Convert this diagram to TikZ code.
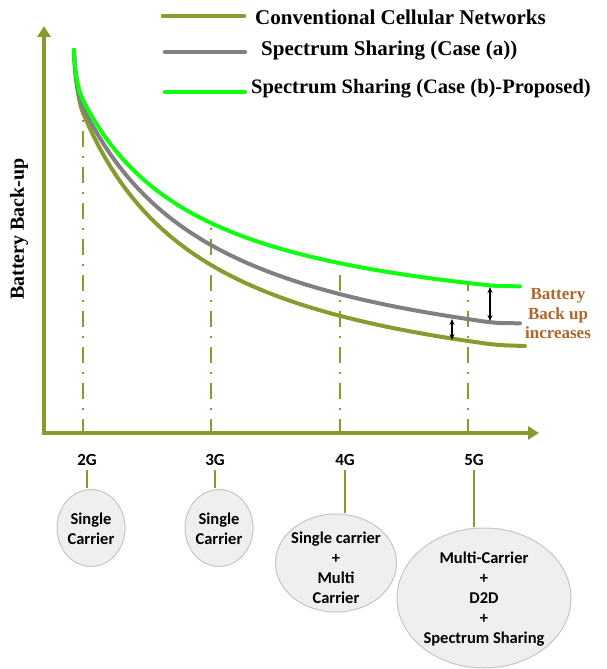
\documentclass[tikz,border=0pt]{standalone}
\usepackage{fontspec}
\setmainfont{Liberation Serif}
\newfontfamily\calfont{Carlito}[BoldFont={Carlito Bold}]
\usetikzlibrary{arrows.meta,shapes.geometric}
\definecolor{axisolive}{HTML}{8B9A2E}
\definecolor{casegray}{HTML}{808080}
\definecolor{casegreen}{HTML}{10FF10}
\definecolor{notebrown}{HTML}{B0652A}
\definecolor{bubblefill}{HTML}{EFEFEF}
\definecolor{bubbleline}{HTML}{C6C6BC}
\begin{document}
\begin{tikzpicture}[x=1pt,y=-1pt,
  axisline/.style={draw=axisolive,line width=4pt,-{Triangle[length=11pt,width=13pt]}},
  curve/.style={line width=4pt,line cap=round,line join=round},
  legendline/.style={line width=4.5pt,line cap=round},
  legendtext/.style={anchor=west,inner sep=0pt,font=\fontsize{21}{25}\selectfont\bfseries},
  gridline/.style={draw=axisolive,line width=2pt,dash pattern=on 16pt off 9pt on 2pt off 9pt},
  gaparrow/.style={draw=black,line width=1.3pt,{Stealth[length=6pt,width=5pt]}-{Stealth[length=6pt,width=5pt]}},
  genlabel/.style={inner sep=0pt,font=\calfont\bfseries\fontsize{17}{20}\selectfont},
  bubble/.style={ellipse,draw=bubbleline,fill=bubblefill,line width=1pt,inner sep=0pt},
  bubbletext/.style={align=center,inner sep=0pt,font=\calfont\bfseries\fontsize{16.5}{20}\selectfont},
  stem/.style={draw=axisolive,line width=2pt}]
\useasboundingbox (0,0) rectangle (607,669);

% legend
\draw[legendline,axisolive] (163,16) -- (244,16);
\draw[legendline,casegray] (165,52) -- (245,52);
\draw[legendline,casegreen] (165,92) -- (245,92);
\node[legendtext] (leg1) at (255,17) {Conventional Cellular Networks};
\node[legendtext] (leg2) at (261,51) {Spectrum Sharing (Case (a))};
\node[legendtext,font=\fontsize{20.5}{25}\selectfont\bfseries] (leg3) at (251,89) {Spectrum Sharing (Case (b)-Proposed)};

% axis title
\node[rotate=90,inner sep=0pt,font=\fontsize{20}{24}\selectfont\bfseries] (ylab) at (19,229) {Battery Back-up};

% generation grid lines
\draw[gridline] (83,435) -- (83,120);
\draw[gridline] (211,435) -- (211,227);
\draw[gridline] (340,435) -- (340,274);
\draw[gridline] (468,435) -- (468,283);

% battery back-up curves: steep start, hyperbolic decay, flat tail
\draw[curve,axisolive] (74,50) .. controls (74.5,76) and (79,104) .. (83,113)
  -- plot[domain=83:468,samples=70] (\x,{416.6-(387.75/(\x+44.7))*100})
  .. controls (496,345.1) .. (525,346);
\draw[curve,casegray] (74,50) .. controls (74.5,74) and (78.5,97) .. (83,107)
  -- plot[domain=83:468,samples=70] (\x,{396.3-(405.84/(\x+57.3))*100})
  .. controls (494,323.1) .. (520,323.3);
\draw[curve,casegreen] (74,50) .. controls (74.8,70) and (78,90) .. (83,100)
  -- plot[domain=83:468,samples=70] (\x,{341.7-(298.65/(\x+40.55))*100})
  .. controls (495,286.1) .. (520,286.3);

% axes
\coordinate (origin) at (44,433);
\coordinate (ytip) at (44,26);
\coordinate (xtip) at (539,433);
\draw[axisline] ([yshift=-2pt]origin) -- (ytip);
\draw[axisline] ([xshift=-2pt]origin) -- (xtip);

% gap arrows
\coordinate (ga1) at (452,340);
\coordinate (gb1) at (452,319);
\coordinate (ga2) at (490,321);
\coordinate (gb2) at (490,287);
\draw[gaparrow] (ga1) -- (gb1);
\draw[gaparrow] (ga2) -- (gb2);
\node[align=center,inner sep=0pt,text=notebrown,font=\fontsize{17}{19.5}\selectfont\bfseries] (gain) at (558,314) {Battery\\Back up\\increases};

% generation labels
\node[genlabel] (g2) at (87,460) {2G};
\node[genlabel] (g3) at (215,460) {3G};
\node[genlabel] (g4) at (345,460) {4G};
\node[genlabel] (g5) at (474,460) {5G};

% technology bubbles
\node[bubble,minimum width=68pt,minimum height=77pt] (b2) at (91,528) {};
\node[bubble,minimum width=68pt,minimum height=77pt] (b3) at (219,528) {};
\node[bubble,minimum width=121pt,minimum height=98pt] (b4) at (336,563) {};
\node[bubble,minimum width=174pt,minimum height=140pt] (b5) at (484,598) {};
\node[bubbletext] (t2) at (91,529) {Single\\Carrier};
\node[bubbletext] (t3) at (219,529) {Single\\Carrier};
\node[bubbletext] (t4) at (336,568) {Single carrier\\+\\Multi\\Carrier};
\node[bubbletext] (t5) at (484,599) {Multi-Carrier\\+\\D2D\\+\\Spectrum Sharing};

% stems
\draw[stem] ([yshift=-4pt]g2.south) -- ([yshift=1pt]g2.south |- b2.north);
\draw[stem] ([yshift=-4pt]g3.south) -- ([yshift=1pt]g3.south |- b3.north);
\draw[stem] ([yshift=-4pt]g4.south) -- ([yshift=1pt]g4.south |- b4.north);
\draw[stem] ([yshift=-4pt]g5.south) -- ([yshift=1pt]g5.south |- b5.north);
\end{tikzpicture}
\end{document}
